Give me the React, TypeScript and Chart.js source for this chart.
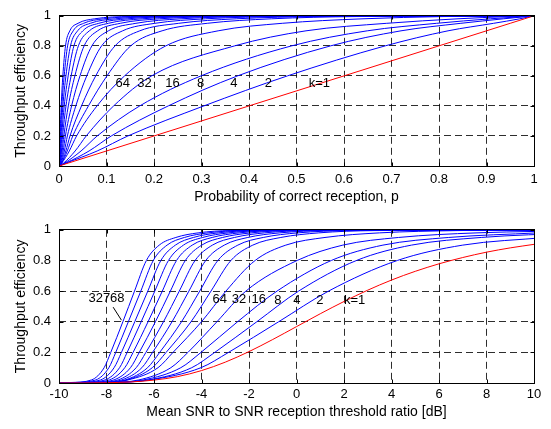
import React, { useEffect, useRef } from 'react';
import { Chart, registerables } from 'chart.js';

Chart.register(...registerables);

const FONT = '"Liberation Sans", Arial, Helvetica, sans-serif';
Chart.defaults.font.family = FONT;
Chart.defaults.color = '#000';

// ---------- series names ----------
const seriesK = ['1', '2', '4', '8', '16', '32', '64', '128', '256', '512', '1024', '2048', '4096', '8192', '16384', '32768'];

// ---------- top plot: p at which each curve reaches the efficiency levels ----------
const topLevels = [0, 0.02, 0.1, 0.2, 0.4, 0.6, 0.8, 0.9, 0.95, 0.98, 0.995];
const topP1 = [0, 0.02, 0.1, 0.2, 0.4, 0.6, 0.8, 0.9, 0.95, 0.98];
const topP2 = [0, 0.0156, 0.0804, 0.145, 0.305, 0.481, 0.687, 0.819, 0.915, 0.970];
const topP4 = [0, 0.0148, 0.0633, 0.110, 0.230, 0.376, 0.572, 0.720, 0.846, 0.936];
const topP8 = [0, 0.012, 0.0464, 0.0804, 0.170, 0.299, 0.490, 0.649, 0.795, 0.908];
const topP16 = [0, 0.00995, 0.034, 0.0573, 0.115, 0.195, 0.37, 0.52, 0.69, 0.84, 0.945];
const topP32 = [0, 0.006, 0.0217, 0.037, 0.08, 0.138, 0.225, 0.335, 0.47, 0.64, 0.81];
const topP64 = [0, 0.0056, 0.0174, 0.029, 0.062, 0.101, 0.151, 0.217, 0.312, 0.447, 0.626];
const topP128 = [0, 0.0052, 0.0144, 0.0231, 0.0474, 0.0773, 0.118, 0.170, 0.252, 0.373, 0.547];
const topP256 = [0, 0.00434, 0.0113, 0.0176, 0.0354, 0.0584, 0.0898, 0.134, 0.202, 0.309, 0.476];
const topP512 = [0, 0.00355, 0.0088, 0.0134, 0.0265, 0.0442, 0.0693, 0.104, 0.162, 0.257, 0.412];
const topP1024 = [0, 0.00282, 0.0067, 0.0102, 0.0196, 0.0334, 0.0529, 0.0813, 0.129, 0.212, 0.357];
const topP2048 = [0, 0.00215, 0.0051, 0.0076, 0.0147, 0.0255, 0.0408, 0.0639, 0.104, 0.175, 0.307];
const topP4096 = [0, 0.00166, 0.00385, 0.00574, 0.0110, 0.0193, 0.0314, 0.0503, 0.0837, 0.145, 0.264];
const topP8192 = [0, 0.00125, 0.00285, 0.00425, 0.0082, 0.0146, 0.0242, 0.0392, 0.0659, 0.119, 0.223];
const topP16384 = [0, 0.00091, 0.0021, 0.0031, 0.0060, 0.0109, 0.0181, 0.0299, 0.0518, 0.0944, 0.186];
const topP32768 = [0, 0.00068, 0.00157, 0.00236, 0.0046, 0.0081, 0.0137, 0.0228, 0.040, 0.075, 0.151];
const topCurves = [topP1, topP2, topP4, topP8, topP16, topP32, topP64, topP128, topP256, topP512, topP1024, topP2048, topP4096, topP8192, topP16384, topP32768];

// ---------- bottom plot: SNR (dB) at which each curve reaches the efficiency levels ----------
const snrRed = [-10, -9, -8, -7, -6, -5, -4, -3, -2, -1, 0, 1, 2, 3, 4, 5, 6, 7, 8, 9, 10];
const effRed = [0, 0.0004, 0.002, 0.0067, 0.019, 0.042, 0.081, 0.136, 0.205, 0.284, 0.368, 0.452, 0.532, 0.606, 0.672, 0.729, 0.778, 0.819, 0.854, 0.882, 0.905];
const bottomLevels = [0, 0.003, 0.02, 0.1, 0.2, 0.4, 0.6, 0.8, 0.9, 0.95, 0.98, 0.995];
const snr2 = [-10, -7.8, -6.19, -4.02, -2.86, -0.75, 1.35, 4.25, 7.0, 10.5];
const snr4 = [-10, -7.85, -6.24, -4.41, -3.44, -1.67, 0.09, 2.53, 4.84, 7.78, 11.77];
const snr8 = [-10, -7.9, -6.45, -4.87, -4.02, -2.48, -0.82, 1.47, 3.64, 6.41, 10.16];
const snr16 = [-10, -7.95, -6.64, -5.29, -4.57, -3.35, -2.13, 0.03, 1.95, 4.3, 7.6, 12.5];
const snr32 = [-10, -8.0, -7.09, -5.83, -5.2, -4.0, -2.97, -1.74, -0.45, 1.2, 3.5, 6.8];
const snr64 = [-10, -8.05, -7.15, -6.07, -5.49, -4.44, -3.60, -2.76, -1.84, -0.66, 0.94, 3.29];
const snr128 = [-10, -8.11, -7.21, -6.27, -5.76, -4.84, -4.075, -3.31, -2.47, -1.40, 0.06, 2.20];
const snr256 = [-10, -8.26, -7.36, -6.51, -6.06, -5.24, -4.53, -3.82, -3.04, -2.05, -0.70, 1.29];
const snr512 = [-10, -8.41, -7.51, -6.75, -6.34, -5.60, -4.935, -4.27, -3.54, -2.61, -1.34, 0.52];
const snr1024 = [-10, -8.59, -7.69, -6.99, -6.62, -5.94, -5.31, -4.68, -3.99, -3.11, -1.91, -0.14];
const snr2048 = [-10, -8.78, -7.88, -7.23, -6.88, -6.25, -5.65, -5.05, -4.39, -3.55, -2.41, -0.73];
const snr4096 = [-10, -8.96, -8.06, -7.45, -7.13, -6.54, -5.965, -5.39, -4.76, -3.95, -2.86, -1.25];
const snr8192 = [-10, -9.15, -8.25, -7.68, -7.37, -6.81, -6.26, -5.71, -5.10, -4.34, -3.29, -1.75];
const snr16384 = [-10, -9.35, -8.45, -7.90, -7.61, -7.08, -6.555, -6.03, -5.45, -4.72, -3.72, -2.25];
const snr32768 = [-10, -9.53, -8.63, -8.10, -7.82, -7.31, -6.82, -6.32, -5.78, -5.08, -4.14, -2.76];
const bottomCurves = [snr2, snr4, snr8, snr16, snr32, snr64, snr128, snr256, snr512, snr1024, snr2048, snr4096, snr8192, snr16384, snr32768];

// ---------- ticks ----------
const topXTicks = [0, 0.1, 0.2, 0.3, 0.4, 0.5, 0.6, 0.7, 0.8, 0.9, 1];
const topXTickLabels = ['0', '0.1', '0.2', '0.3', '0.4', '0.5', '0.6', '0.7', '0.8', '0.9', '1'];
const bottomXTicks = [-10, -8, -6, -4, -2, 0, 2, 4, 6, 8, 10];
const bottomXTickLabels = ['-10', '-8', '-6', '-4', '-2', '0', '2', '4', '6', '8', '10'];
const yTicks = [0, 0.2, 0.4, 0.6, 0.8, 1];
const yTickLabels = ['0', '0.2', '0.4', '0.6', '0.8', '1'];

// ---------- in-plot labels ----------
const topNoteText = ['64', '32', '16', '8', '4', '2', 'k=1'];
const topNoteX = [0.134, 0.18, 0.239, 0.298, 0.368, 0.441, 0.548];
const topNoteY = [0.548, 0.548, 0.548, 0.548, 0.548, 0.548, 0.548];
const bottomNoteText = ['32768', '64', '32', '16', '8', '4', '2', 'k=1'];
const bottomNoteX = [-8.0, -3.23, -2.42, -1.59, -0.78, 0.02, 0.98, 2.45];
const bottomNoteY = [0.553, 0.546, 0.546, 0.546, 0.54, 0.54, 0.54, 0.54];
const bottomLeaderX = [-7.72, -7.37];
const bottomLeaderY = [0.495, 0.41];

const BLUE = '#0000ff';
const RED = '#ff0000';

function makeDecor(texts: string[], xs: number[], ys: number[], leaderX?: number[], leaderY?: number[]) {
  return {
    id: 'decor',
    afterDraw(chart: any) {
      const { ctx, chartArea: a } = chart;
      const sx = chart.scales.x;
      const sy = chart.scales.y;
      const L = Math.floor(a.left) + 0.5;
      const R = Math.floor(a.right) + 0.5;
      const T = Math.floor(a.top) + 0.5;
      const B = Math.floor(a.bottom) + 0.5;
      ctx.save();
      ctx.strokeStyle = '#000';
      ctx.lineWidth = 1;
      ctx.setLineDash([]);
      ctx.strokeRect(L, T, R - L, B - T);
      const tl = 4;
      ctx.beginPath();
      sx.ticks.forEach((t: any) => {
        const px = Math.round(sx.getPixelForValue(t.value)) + 0.5;
        ctx.moveTo(px, B); ctx.lineTo(px, B - tl);
        ctx.moveTo(px, T); ctx.lineTo(px, T + tl);
      });
      sy.ticks.forEach((t: any) => {
        const py = Math.round(sy.getPixelForValue(t.value)) + 0.5;
        ctx.moveTo(L, py); ctx.lineTo(L + tl, py);
        ctx.moveTo(R, py); ctx.lineTo(R - tl, py);
      });
      ctx.stroke();
      ctx.fillStyle = '#000';
      ctx.font = `13px ${FONT}`;
      ctx.textAlign = 'center';
      ctx.textBaseline = 'middle';
      texts.forEach((s, i) => {
        ctx.fillText(s, sx.getPixelForValue(xs[i]), sy.getPixelForValue(ys[i]));
      });
      if (leaderX && leaderY) {
        ctx.beginPath();
        ctx.moveTo(sx.getPixelForValue(leaderX[0]), sy.getPixelForValue(leaderY[0]));
        ctx.lineTo(sx.getPixelForValue(leaderX[1]), sy.getPixelForValue(leaderY[1]));
        ctx.stroke();
      }
      ctx.restore();
    },
  };
}

function lineDs(label: string, data: { x: number; y: number }[], color: string) {
  return {
    label,
    data,
    showLine: true,
    borderColor: color,
    backgroundColor: color,
    borderWidth: 1,
    pointRadius: 0,
    pointHoverRadius: 0,
    fill: false,
    cubicInterpolationMode: 'monotone',
    capBezierPoints: false,
  };
}

function buildConfig(opts: {
  datasets: any[];
  xMin: number; xMax: number; xTicks: number[]; xTickLabels: string[]; xTitle: string;
  padTop: number; axisH: number; tickPad: number; titlePad: number; decor: any;
}) {
  return {
    type: 'scatter',
    data: { datasets: opts.datasets },
    plugins: [opts.decor],
    options: {
      animation: false,
      responsive: false,
      devicePixelRatio: 1,
      events: [],
      layout: { padding: { top: opts.padTop, right: 17, left: 0, bottom: 0 }, autoPadding: false },
      plugins: { legend: { display: false }, tooltip: { enabled: false } },
      scales: {
        x: {
          type: 'linear',
          min: opts.xMin,
          max: opts.xMax,
          afterBuildTicks: (s: any) => { s.ticks = opts.xTicks.map((v) => ({ value: v })); },
          afterFit: (s: any) => { s.height = opts.axisH; },
          grid: { color: 'rgba(0,0,0,0.82)', lineWidth: 1, drawTicks: false },
          border: { display: false, dash: [7, 4] },
          ticks: {
            padding: opts.tickPad,
            color: '#000',
            font: { size: 13 },
            maxRotation: 0,
            autoSkip: false,
            callback: (_v: any, i: number) => opts.xTickLabels[i],
          },
          title: { display: true, text: opts.xTitle, color: '#000', font: { size: 14 }, padding: { top: 0, bottom: opts.titlePad } },
        },
        y: {
          type: 'linear',
          min: 0,
          max: 1,
          afterBuildTicks: (s: any) => { s.ticks = yTicks.map((v) => ({ value: v })); },
          afterFit: (s: any) => { s.width = 59; },
          grid: { color: 'rgba(0,0,0,0.82)', lineWidth: 1, drawTicks: false },
          border: { display: false, dash: [7, 4] },
          ticks: {
            padding: 8,
            color: '#000',
            font: { size: 13 },
            autoSkip: false,
            callback: (_v: any, i: number) => yTickLabels[i],
          },
          title: { display: true, text: 'Throughput efficiency', color: '#000', font: { size: 14 }, padding: { top: 12.5, bottom: 0 } },
        },
      },
    },
  };
}

export default function App() {
  const topRef = useRef<HTMLCanvasElement>(null);
  const botRef = useRef<HTMLCanvasElement>(null);

  useEffect(() => {
    const topDatasets = topCurves.map((arr, i) => {
      const pts = arr.map((p, j) => ({ x: p, y: topLevels[j] }));
      pts.push({ x: 1, y: 1 });
      return lineDs('k=' + seriesK[i], pts, i === 0 ? RED : BLUE);
    });

    const redBottom = snrRed.map((x, j) => ({ x, y: effRed[j] }));
    const bottomDatasets = [lineDs('k=1', redBottom, RED)].concat(
      bottomCurves.map((arr, i) => {
        const pts = arr.map((x, j) => ({ x, y: bottomLevels[j] }));
        if (pts[pts.length - 1].x < 10) pts.push({ x: 10, y: 1 });
        return lineDs('k=' + seriesK[i + 1], pts, BLUE);
      })
    );

    const c1 = new Chart(topRef.current as HTMLCanvasElement, buildConfig({
      datasets: topDatasets,
      xMin: 0, xMax: 1, xTicks: topXTicks, xTickLabels: topXTickLabels,
      xTitle: 'Probability of correct reception, p',
      padTop: 9, axisH: 48, tickPad: 5.5, titlePad: 8,
      decor: makeDecor(topNoteText, topNoteX, topNoteY),
    }) as any);

    const c2 = new Chart(botRef.current as HTMLCanvasElement, buildConfig({
      datasets: bottomDatasets,
      xMin: -10, xMax: 10, xTicks: bottomXTicks, xTickLabels: bottomXTickLabels,
      xTitle: 'Mean SNR to SNR reception threshold ratio [dB]',
      padTop: 10, axisH: 46, tickPad: 3.5, titlePad: 8.3,
      decor: makeDecor(bottomNoteText, bottomNoteX, bottomNoteY, bottomLeaderX, bottomLeaderY),
    }) as any);

    return () => {
      c1.destroy();
      c2.destroy();
    };
  }, []);

  return (
    <div style={{ position: 'absolute', left: 0, top: 0, width: 551, height: 429, background: '#fff' }}>
      <canvas ref={topRef} width={551} height={214} style={{ position: 'absolute', left: 0, top: 0, width: 551, height: 214 }} />
      <canvas ref={botRef} width={551} height={215} style={{ position: 'absolute', left: 0, top: 214, width: 551, height: 215 }} />
    </div>
  );
}
